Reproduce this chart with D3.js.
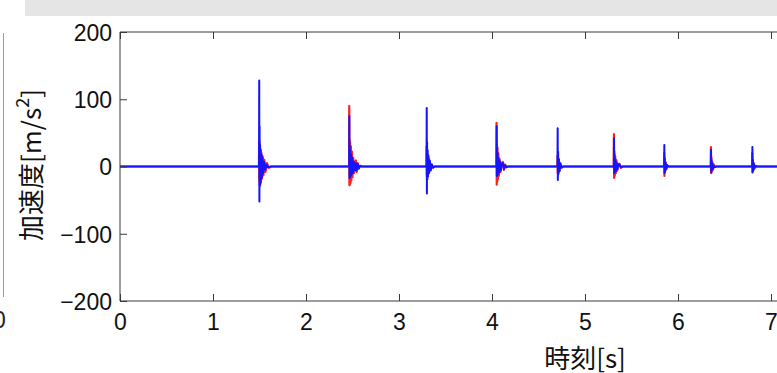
<!DOCTYPE html>
<html><head><meta charset="utf-8">
<script src="https://cdn.jsdelivr.net/npm/d3@7"></script>
<style>
html,body{margin:0;padding:0;background:#fff;overflow:hidden;}
svg{display:block;}
</style></head>
<body>
<svg id="chart" width="777" height="373"></svg>
<script>
// ---- data ----
const xTicks = [0,1,2,3,4,5,6,7,8,9,10];
const yTicks = [-200,-100,0,100,200];
const xLabel = "時刻[s]";
const yLabelMain = "加速度[m/s";
const yLabelSup = "2";
const yLabelEnd = "]";

// red series (time [s], acceleration [m/s^2])
const redTime = [
 0, 1.494, 1.496, 1.498, 1.500, 1.502, 1.505, 1.508, 1.512, 1.516, 1.521, 1.527, 1.534, 1.542, 1.552, 1.565, 1.580, 1.600, 1.630,
 2.463, 2.465, 2.467, 2.469, 2.472, 2.475, 2.479, 2.483, 2.488, 2.494, 2.500, 2.508, 2.516, 2.526, 2.536, 2.545, 2.555, 2.567, 2.580, 2.600,
 3.295, 3.297, 3.299, 3.301, 3.304, 3.307, 3.311, 3.316, 3.322, 3.330, 3.340, 3.352, 3.366, 3.385,
 4.047, 4.049, 4.051, 4.053, 4.056, 4.059, 4.063, 4.068, 4.074, 4.082, 4.092, 4.104, 4.116, 4.128, 4.140, 4.155, 4.175,
 4.703, 4.705, 4.707, 4.710, 4.714, 4.719, 4.726, 4.735, 4.748, 4.765,
 5.309, 5.311, 5.313, 5.316, 5.320, 5.325, 5.331, 5.338, 5.347, 5.358, 5.370, 5.385, 5.405,
 5.850, 5.852, 5.854, 5.857, 5.861, 5.866, 5.873, 5.882, 5.895,
 6.352, 6.354, 6.356, 6.359, 6.363, 6.368, 6.375, 6.384, 6.395, 6.410,
 6.797, 6.799, 6.801, 6.804, 6.808, 6.813, 6.820, 6.830, 6.845,
 10
];
const redAcc = [
 0, 0, 38, -20, 36, -28, 32, -27, 26, -24, 20, -18, 15, -13, 10, -8, 5, -2, 0,
 0, 90, -28, 40, -27, 36, -24, 30, -20, 22, -16, 13, -10, 7, 9, -8, 5, -3, 1, 0,
 0, 30, -15, 24, -14, 18, -12, 13, -9, 7, -5, 3, -1, 0,
 0, 65, -27, 34, -23, 28, -19, 20, -14, 11, -8, 5, 7, -5, 3, -1, 0,
 0, 16, -10, 12, -8, 7, -5, 3, -1, 0,
 0, 48, -17, 22, -14, 15, -10, 9, -6, 4, 4, -2, 0,
 0, 20, -14, 12, -8, 6, -4, 2, 0,
 0, 29, -10, 14, -8, 7, -5, 3, -1, 0,
 0, 20, -9, 10, -6, 5, -3, 1, 0,
 0
];

// blue series (time [s], acceleration [m/s^2])
const blueTime = [
 0, 1.495, 1.497, 1.499, 1.501, 1.503, 1.506, 1.509, 1.512, 1.516, 1.520, 1.526, 1.532, 1.540, 1.550, 1.562, 1.575, 1.590, 1.620,
 2.464, 2.466, 2.468, 2.470, 2.473, 2.476, 2.480, 2.485, 2.490, 2.497, 2.505, 2.514, 2.524, 2.535, 2.545, 2.556, 2.568, 2.582, 2.600,
 3.296, 3.298, 3.300, 3.302, 3.305, 3.308, 3.312, 3.317, 3.323, 3.331, 3.341, 3.353, 3.367, 3.385,
 4.048, 4.050, 4.052, 4.054, 4.057, 4.060, 4.064, 4.069, 4.075, 4.083, 4.093, 4.105, 4.117, 4.129, 4.141, 4.156, 4.175,
 4.704, 4.706, 4.708, 4.711, 4.715, 4.720, 4.727, 4.736, 4.749, 4.765,
 5.310, 5.312, 5.314, 5.317, 5.321, 5.326, 5.332, 5.339, 5.348, 5.359, 5.371, 5.386, 5.405,
 5.851, 5.853, 5.855, 5.858, 5.862, 5.867, 5.874, 5.883, 5.895,
 6.353, 6.355, 6.357, 6.360, 6.364, 6.369, 6.376, 6.385, 6.396, 6.410,
 6.798, 6.800, 6.802, 6.805, 6.809, 6.814, 6.821, 6.831, 6.845,
 10
];
const blueAcc = [
 0, 0, 128, -52, 60, -30, 32, -24, 24, -20, 18, -16, 13, -10, 7, -5, 3, -1, 0,
 0, 75, -17, 30, -16, 24, -14, 18, -12, 13, -9, 7, -6, 5, -6, 4, -3, 1, 0,
 0, 87, -40, 36, -19, 24, -15, 16, -10, 9, -6, 3, -2, 0,
 0, 60, -14, 28, -13, 20, -11, 13, -9, 8, -6, 4, 5, -4, 2, -1, 0,
 0, 57, -20, 22, -11, 11, -7, 5, -2, 0,
 0, 42, -10, 18, -9, 11, -7, 6, -4, 3, 3, -1, 0,
 0, 32, -10, 12, -7, 6, -4, 2, 0,
 0, 25, -8, 10, -6, 5, -3, 1, -1, 0,
 0, 29, -8, 10, -6, 5, -3, 1, 0,
 0
];

// ---- drawing ----
const svg = d3.select("#chart");
const W = 777, H = 373;
const plot = {left:120, right:1050, top:32, bottom:301};

const x = d3.scaleLinear().domain([0,10]).range([plot.left, plot.right]);
const y = d3.scaleLinear().domain([-200,200]).range([plot.bottom, plot.top]);

// frame remnants (cropped screenshot)
svg.append("rect").attr("x",25).attr("y",0).attr("width",W-25).attr("height",16).attr("fill","#e5e5e5");
svg.append("line").attr("x1",3.5).attr("x2",3.5).attr("y1",33).attr("y2",297).attr("stroke","#9a9a9a").attr("stroke-width",1);
svg.append("text").attr("x",-7).attr("y",328).attr("font-family","Liberation Sans, Arial, sans-serif").attr("font-size",23).attr("fill","#222").text("0");

svg.append("defs").append("clipPath").attr("id","clip")
  .append("rect").attr("x",plot.left).attr("y",plot.top).attr("width",plot.right-plot.left).attr("height",plot.bottom-plot.top);

const line = d3.line().x(d=>x(d[0])).y(d=>y(d[1]));
const redData = redTime.map((t,i)=>[t, redAcc[i]]);
const blueData = blueTime.map((t,i)=>[t, blueAcc[i]]);

const g = svg.append("g").attr("clip-path","url(#clip)");
g.append("path").datum(redData).attr("d",line).attr("fill","none").attr("stroke","#ff2020").attr("stroke-width",2.2).attr("stroke-linejoin","round");
g.append("path").datum(blueData).attr("d",line).attr("fill","none").attr("stroke","#1414ff").attr("stroke-width",2).attr("stroke-linejoin","round");

// axes (MATLAB style, ticks inward, box)
const axisColor = "#3a3a3a";
const tickFont = "Liberation Sans, Arial, sans-serif";
const xb = svg.append("g").attr("transform",`translate(0,${plot.bottom})`)
  .call(d3.axisBottom(x).tickValues(xTicks).tickSize(-7).tickPadding(13).tickFormat(d3.format("d")));
const xt = svg.append("g").attr("transform",`translate(0,${plot.top})`)
  .call(d3.axisTop(x).tickValues(xTicks).tickSize(-7).tickFormat(""));
const yl = svg.append("g").attr("transform",`translate(${plot.left},0)`)
  .call(d3.axisLeft(y).tickValues(yTicks).tickSize(-7).tickPadding(8)
    .tickFormat(d => d < 0 ? "\u2212" + Math.abs(d) : String(d)));
const yr = svg.append("g").attr("transform",`translate(${plot.right},0)`)
  .call(d3.axisRight(y).tickValues(yTicks).tickSize(-7).tickFormat(""));

[xb,xt,yl,yr].forEach(a=>{
  a.select(".domain").attr("stroke",axisColor).attr("stroke-width",1);
  a.selectAll(".tick line").attr("stroke",axisColor).attr("stroke-width",1);
  a.selectAll("text").attr("font-family",tickFont).attr("font-size",23).attr("fill","#111");
});
xb.selectAll(".domain").attr("d",`M${plot.left},0H${plot.right}`);
yl.selectAll(".domain").attr("d",`M0,${plot.top}V${plot.bottom}`);
xt.selectAll(".domain").attr("d",`M${plot.left},0H${plot.right}`);
yl.selectAll("text").attr("dy","0.36em");

// axis labels
svg.append("text").attr("x",585).attr("y",368).attr("text-anchor","middle")
  .attr("font-family","Noto Sans CJK JP, sans-serif").attr("font-size",26).attr("fill","#111").text(xLabel);

const yt = svg.append("text").attr("transform","translate(41,165) rotate(-90)").attr("text-anchor","middle")
  .attr("font-family","Noto Sans CJK JP, sans-serif").attr("font-size",26).attr("fill","#111");
yt.append("tspan").text(yLabelMain);
yt.append("tspan").attr("font-size",18).attr("dy",-12).text(yLabelSup);
yt.append("tspan").attr("dy",12).text(yLabelEnd);
</script>
</body></html>
